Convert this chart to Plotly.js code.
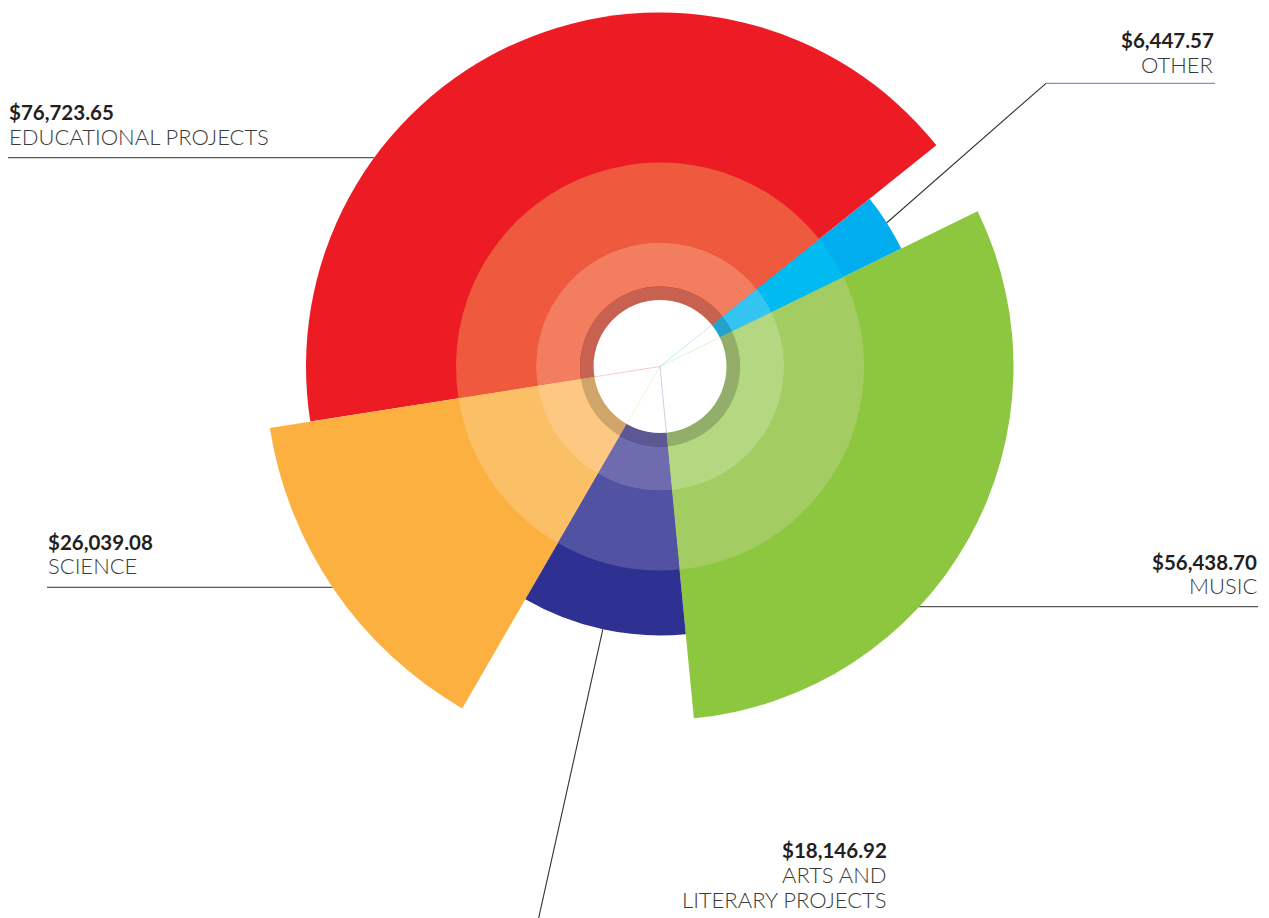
<!DOCTYPE html>
<html><head><meta charset="utf-8">
<script src="https://cdn.plot.ly/plotly-3.0.1.min.js"></script>
<style>
html,body{margin:0;padding:0;overflow:hidden;background:#fff;width:1269px;height:918px;}
#chart{position:absolute;left:0;top:-60px;width:1269px;height:980px;}
</style></head><body><div id="chart"></div>
<script>
// ---- data ----
const categories = ['Music', 'Other', 'Educational Projects', 'Science', 'Arts and Literary Projects'];
const labelLines = [['MUSIC'], ['OTHER'], ['EDUCATIONAL PROJECTS'], ['SCIENCE'], ['ARTS AND', 'LITERARY PROJECTS']];
const amounts = [56438.70, 6447.57, 76723.65, 26039.08, 18146.92];
const petalRadius = [353.5, 268.5, 354, 395, 269];   // outer radius of each petal (radial-axis units)

// ---- styles ----
const colors  = ['#8DC63F', '#00AEEF', '#ED1C24', '#FBB040', '#2E3192'];
const tintA   = ['#A3CD62', '#00BAF0', '#EF5A3E', '#FBBF65', '#5152A2'];   // band 124-204
const tintB   = ['#B4D882', '#33C4F1', '#F27D5F', '#FDC982', '#6F6BAF'];   // band 80-124
const tintDark = ['#93AE6A', '#24A2CC', '#C6624F', '#D0A569', '#5D5793'];  // band 66.5-80

// ---- geometry / layout constants ----
const W = 1269, H = 980, TOP = -60;
const CX = 660, CY = 366.5, R = 400;
const ROT = -84.5;
const total = amounts.reduce((a, b) => a + b, 0);
const widths = amounts.map(v => v / total * 360);
const starts = []; let acc = 0;
widths.forEach(w => { starts.push(acc); acc += w; });
const centers = widths.map((w, i) => starts[i] + w / 2);

const px = x => x / W;
const py = y => 1 - (y - TOP) / H;
function polarToPage(r, th) {
  const a = (ROT + th) * Math.PI / 180;
  return [CX + r * Math.cos(a), CY - r * Math.sin(a)];
}

const traces = [];
function band(base, len, cols) {
  return {type: 'barpolar', r: amounts.map(() => len), base: amounts.map(() => base),
    theta: centers, width: widths, marker: {color: cols, line: {width: 0}}, hoverinfo: 'skip'};
}
traces.push({type: 'barpolar', r: petalRadius, theta: centers, width: widths,
  marker: {color: colors, line: {width: 0}}, hoverinfo: 'skip'});
traces.push(band(124, 80, tintA));
traces.push(band(80, 44, tintB));
traces.push(band(66.5, 13.5, tintDark));
traces.push({type: 'barpolar', r: [66.5], base: [0], theta: [0], width: [360],
  marker: {color: '#ffffff', line: {width: 0}}, hoverinfo: 'skip'});
// faint seams inside the hole
starts.forEach((s, i) => {
  traces.push({type: 'scatterpolar', mode: 'lines', r: [0, 66.5], theta: [s, s],
    line: {color: colors[(i + colors.length - 1) % colors.length], width: 0.7}, opacity: 0.35, hoverinfo: 'skip'});
});

// ---- labels ----
const labelPos = [
  {anchor: 'right', x: 1257.5, amt: 569.5, names: [594], line: {type: 'h', y: 606.7, x2: 1258}},
  {anchor: 'right', x: 1215, amt: 47.5, names: [73], line: {type: 'elbow', ex: 1046, ey: 83.3, x2: 1215}},
  {anchor: 'left', x: 8, amt: 119.5, names: [145.5], line: {type: 'h', y: 157.7, x2: 8}},
  {anchor: 'left', x: 47, amt: 549.5, names: [574], line: {type: 'h', y: 587.3, x2: 47}},
  {anchor: 'right', x: 888, amt: 857.5, names: [883, 908], line: {type: 'ray', ex: 536, ey: 930}}
];
const annotations = [], shapes = [];
function addText(text, x, baseline, anchor, family, size, weight, color) {
  annotations.push({xref: 'paper', yref: 'paper', x: px(x), y: py(baseline - 0.387 * size),
    xanchor: anchor, yanchor: 'middle', text: text, showarrow: false, borderpad: 0,
    font: {family: family, size: size, color: color, weight: weight}});
}
function seg(x0, y0, x1, y1, color, w) {
  shapes.push({type: 'line', xref: 'paper', yref: 'paper', x0: px(x0), y0: py(y0), x1: px(x1), y1: py(y1),
    line: {color: color, width: w}});
}
labelPos.forEach((p, i) => {
  const amtTxt = '$' + amounts[i].toLocaleString('en-US', {minimumFractionDigits: 2, maximumFractionDigits: 2});
  addText(amtTxt, p.x, p.amt, p.anchor, 'Lato, sans-serif', 20.5, 700, '#231F20');
  labelLines[i].forEach((t, k) => addText(t, p.x, p.names[k], p.anchor, 'Lato, sans-serif', 22, 300, '#3a3a3a'));
  const L = p.line;
  if (L.type === 'h') {
    const dy = L.y - CY;
    const dx = Math.sqrt(petalRadius[i] * petalRadius[i] - dy * dy);
    const xe = L.x2 > CX ? CX + dx : CX - dx;
    seg(xe, L.y, L.x2, L.y, '#5a5a5a', 1.2);
  } else {
    const [sx, sy] = polarToPage(petalRadius[i], centers[i]);
    seg(sx, sy, L.ex, L.ey, '#333333', 1.1);
    if (L.type === 'elbow') seg(L.ex, L.ey, L.x2, L.ey, '#8a8ec6', 1.2);
  }
});

const layout = {
  width: W, height: H, autosize: false,
  margin: {l: 0, r: 0, t: 0, b: 0, pad: 0},
  paper_bgcolor: '#ffffff', showlegend: false,
  polar: {
    domain: {x: [(CX - R) / W, (CX + R) / W], y: [py(CY + R), py(CY - R)]},
    bgcolor: 'rgba(0,0,0,0)', barmode: 'overlay', bargap: 0, hole: 0,
    radialaxis: {range: [0, R], visible: false},
    angularaxis: {visible: false, rotation: ROT, direction: 'counterclockwise', thetaunit: 'degrees'}
  },
  annotations: annotations, shapes: shapes
};
Plotly.newPlot('chart', traces, layout, {staticPlot: true, displayModeBar: false});
</script></body></html>
